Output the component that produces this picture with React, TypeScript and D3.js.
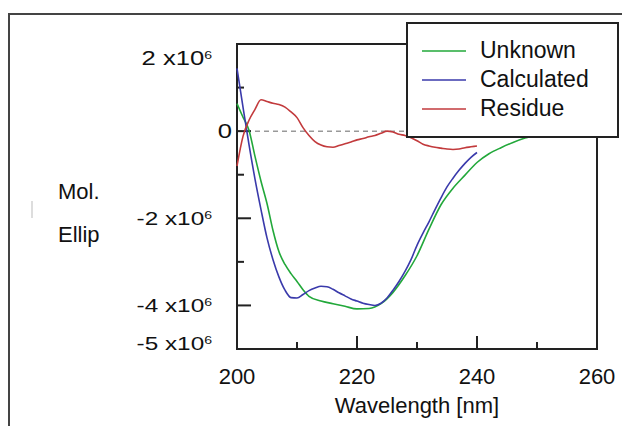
import { useEffect, useRef } from "react";
import * as d3 from "d3";

// wavelength (nm) and molar ellipticity (x10^6) per series
const unknownNm = [200, 201, 202, 203, 204, 205, 206, 207, 208, 209, 210, 211, 212, 214, 216, 218, 220, 222, 224, 226, 228, 230, 232, 234, 236, 238, 240, 242, 244, 246, 248, 250];
const unknownVal = [0.63, 0.32, 0.02, -0.58, -1.15, -1.66, -2.28, -2.77, -3.06, -3.27, -3.45, -3.64, -3.79, -3.9, -3.96, -4.02, -4.08, -4.07, -3.96, -3.7, -3.32, -2.86, -2.25, -1.69, -1.31, -1.01, -0.72, -0.52, -0.38, -0.26, -0.16, -0.08];

const calcNm = [200, 201, 202, 203, 204, 205, 206, 207, 208, 209, 210, 211, 212, 213, 214, 215, 216, 217, 218, 219, 220, 221, 222, 223, 224, 225, 226, 227, 228, 229, 230, 231, 232, 233, 234, 235, 236, 237, 238, 239, 240];
const calcVal = [1.44, 0.55, -0.31, -1.1, -1.8, -2.45, -2.95, -3.35, -3.65, -3.82, -3.83, -3.75, -3.66, -3.6, -3.56, -3.57, -3.63, -3.71, -3.78, -3.85, -3.9, -3.95, -3.98, -4.0, -3.95, -3.83, -3.65, -3.45, -3.22, -2.95, -2.62, -2.34, -2.08, -1.8, -1.53, -1.28, -1.08, -0.9, -0.74, -0.6, -0.49];

const residueNm = calcNm;
const residueVal = [-0.8, -0.12, 0.25, 0.5, 0.72, 0.68, 0.64, 0.61, 0.55, 0.44, 0.31, 0.08, -0.1, -0.24, -0.32, -0.36, -0.37, -0.33, -0.29, -0.25, -0.2, -0.17, -0.13, -0.1, -0.05, 0.0, -0.02, -0.07, -0.1, -0.15, -0.22, -0.3, -0.34, -0.37, -0.39, -0.41, -0.42, -0.41, -0.38, -0.36, -0.34];

const seriesNames = ["Unknown", "Calculated", "Residue"];
const seriesColors = ["#22a83a", "#3a3aab", "#c23a3c"];

const xTicks = [200, 210, 220, 230, 240, 250, 260];
const xTickLabels = [200, 220, 240, 260];
const yTicks = [2, 1, 0, -1, -2, -3, -4, -5];
const yTickLabels = [2, 0, -2, -4, -5];

const App = () => {
  const ref = useRef<SVGSVGElement>(null);

  useEffect(() => {
    const width = 622;
    const height = 426;
    const m = { left: 237, right: 597, top: 44, bottom: 349 };

    const svg = d3.select(ref.current).attr("width", width).attr("height", height);
    svg.selectAll("*").remove();

    const x = d3.scaleLinear().domain([200, 260]).range([m.left, m.right]);
    const y = d3.scaleLinear().domain([-5, 2]).range([m.bottom, m.top]);
    const font = "'Liberation Sans', Arial, sans-serif";

    // outer frame
    svg.append("path")
      .attr("d", `M9,426 V14 H622`)
      .attr("fill", "none")
      .attr("stroke", "#444")
      .attr("stroke-width", 2);

    svg.append("line")
      .attr("x1", 32).attr("x2", 32).attr("y1", 201).attr("y2", 218)
      .attr("stroke", "#bbb").attr("stroke-width", 1);

    // zero line
    svg.append("line")
      .attr("x1", m.left).attr("x2", m.right)
      .attr("y1", y(0)).attr("y2", y(0))
      .attr("stroke", "#999").attr("stroke-width", 1.5)
      .attr("stroke-dasharray", "5,4");

    // plot frame
    svg.append("rect")
      .attr("x", m.left).attr("y", m.top)
      .attr("width", m.right - m.left).attr("height", m.bottom - m.top)
      .attr("fill", "none").attr("stroke", "#222").attr("stroke-width", 2);

    // ticks, pointing inward
    svg.append("g").selectAll("line").data(yTicks).join("line")
      .attr("x1", m.left)
      .attr("x2", (d) => m.left + (d % 2 === 0 ? 14 : 7))
      .attr("y1", (d) => y(d)).attr("y2", (d) => y(d))
      .attr("stroke", "#222").attr("stroke-width", 2);

    svg.append("g").selectAll("line").data(xTicks).join("line")
      .attr("x1", (d) => x(d)).attr("x2", (d) => x(d))
      .attr("y1", m.bottom)
      .attr("y2", (d) => m.bottom - (d % 20 === 0 ? 13 : 7))
      .attr("stroke", "#222").attr("stroke-width", 2);

    // y tick labels (stretched like the original)
    const yl = svg.append("g").attr("font-family", font).attr("fill", "#111");
    yTickLabels.forEach((v) => {
      const by = Math.min(Math.max(y(v) + 7, m.top + 21), m.bottom + 1);
      const bx = v === 0 ? 232 : 212;
      const t = yl.append("text")
        .attr("transform", `translate(${bx},${by}) scale(1.28,1)`)
        .attr("text-anchor", "end")
        .attr("font-size", v === 0 || v === 2 ? 20 : 19);
      if (v === 0) {
        t.text("0");
      } else {
        t.append("tspan").text(`${v} x10`);
        t.append("tspan").attr("font-size", 11).attr("dy", -6).text("6");
      }
    });

    // x tick labels
    svg.append("g").attr("font-family", font).attr("font-size", 22).attr("fill", "#111")
      .selectAll("text").data(xTickLabels).join("text")
      .attr("x", (d) => x(d)).attr("y", 384)
      .attr("text-anchor", "middle")
      .text((d) => d);

    svg.append("text")
      .attr("x", (m.left + m.right) / 2).attr("y", 413)
      .attr("text-anchor", "middle")
      .attr("font-family", font).attr("font-size", 22).attr("fill", "#111")
      .text("Wavelength [nm]");

    const yTitle = svg.append("g").attr("font-family", font).attr("font-size", 22).attr("fill", "#111");
    yTitle.append("text").attr("x", 58).attr("y", 199).text("Mol.");
    yTitle.append("text").attr("x", 58).attr("y", 242).text("Ellip");

    // curves
    const line = d3.line<[number, number]>()
      .x((d) => x(d[0]))
      .y((d) => y(d[1]))
      .curve(d3.curveMonotoneX);

    const series = [
      d3.zip(unknownNm, unknownVal),
      d3.zip(calcNm, calcVal),
      d3.zip(residueNm, residueVal),
    ] as [number, number][][];

    svg.append("g").selectAll("path").data(series).join("path")
      .attr("d", (d) => line(d))
      .attr("fill", "none")
      .attr("stroke", (_, i) => seriesColors[i])
      .attr("stroke-width", 1.6);

    // legend
    const lg = svg.append("g");
    lg.append("rect")
      .attr("x", 407).attr("y", 23).attr("width", 211).attr("height", 114)
      .attr("fill", "white").attr("stroke", "#222").attr("stroke-width", 2);
    const rows = lg.selectAll("g.row").data(seriesNames).join("g")
      .attr("class", "row")
      .attr("transform", (_, i) => `translate(0,${51 + i * 29})`);
    rows.append("line")
      .attr("x1", 422).attr("x2", 466)
      .attr("stroke", (_, i) => seriesColors[i]).attr("stroke-width", 1.6);
    rows.append("text")
      .attr("x", 480).attr("y", 7)
      .attr("font-family", font).attr("font-size", 23).attr("fill", "#111")
      .text((d) => d);
  }, []);

  return <svg ref={ref} style={{ position: "absolute", left: 0, top: 0 }} />;
};

export default App;
